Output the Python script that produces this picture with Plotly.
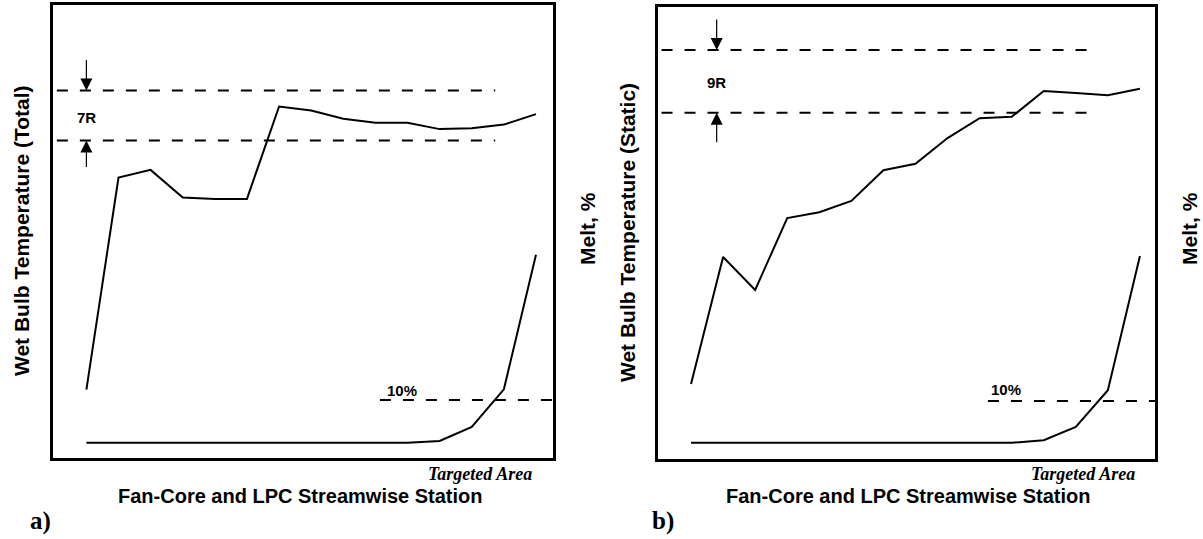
import plotly.graph_objects as go

W, H = 1203, 539

# ---------------- data ----------------
stations = list(range(15))

# Panel a) wet bulb temperature (total), arbitrary scale 0..100
temp_total = [15.1, 61.9, 63.6, 57.5, 57.2, 57.2, 77.6, 76.7, 74.9, 74.0, 74.0, 72.6, 72.8, 73.6, 75.9]
melt_a = [0, 0, 0, 0, 0, 0, 0, 0, 0, 0, 0, 0.4, 3.7, 12.5, 44.0]
band_a = [81.1, 70.1]          # 7R band limits
band_a_x = [-0.92, 12.73]
label_a = "7R"

# Panel b) wet bulb temperature (static)
temp_static = [16.6, 44.7, 37.4, 53.3, 54.6, 57.1, 63.9, 65.3, 71.0, 75.4, 75.7, 81.4, 81.0, 80.5, 81.9]
melt_b = [0, 0, 0, 0, 0, 0, 0, 0, 0, 0, 0, 0.6, 3.8, 12.6, 44.8]
band_b = [90.5, 76.6]          # 9R band limits
band_b_x = [-0.92, 12.69]
label_b = "9R"

melt_threshold = 10            # %
thr_x_a = [9.14, 14.53]
thr_x_b = [9.26, 14.47]

x_title = "Fan-Core and LPC Streamwise Station"
y_title_a = "Wet Bulb Temperature (Total)"
y_title_b = "Wet Bulb Temperature (Static)"
melt_title = "Melt, %"
target_text = "Targeted Area"

# ---------------- figure ----------------
def px(x):
    return x / W

def py(y):
    return 1 - y / H

fig = go.Figure()
line = dict(color="black", width=2)
dash = dict(color="black", width=2, dash="11px,12px")

# panel a
fig.add_trace(go.Scatter(x=stations, y=temp_total, mode="lines", line=line, xaxis="x", yaxis="y"))
for b in band_a:
    fig.add_trace(go.Scatter(x=band_a_x, y=[b, b], mode="lines", line=dash, xaxis="x", yaxis="y"))
fig.add_trace(go.Scatter(x=stations, y=melt_a, mode="lines", line=line, xaxis="x", yaxis="y3"))
fig.add_trace(go.Scatter(x=thr_x_a, y=[melt_threshold] * 2, mode="lines", line=dash, xaxis="x", yaxis="y3"))

# panel b
fig.add_trace(go.Scatter(x=stations, y=temp_static, mode="lines", line=line, xaxis="x2", yaxis="y2"))
for b in band_b:
    fig.add_trace(go.Scatter(x=band_b_x, y=[b, b], mode="lines", line=dash, xaxis="x2", yaxis="y2"))
fig.add_trace(go.Scatter(x=stations, y=melt_b, mode="lines", line=line, xaxis="x2", yaxis="y4"))
fig.add_trace(go.Scatter(x=thr_x_b, y=[melt_threshold] * 2, mode="lines", line=dash, xaxis="x2", yaxis="y4"))

ax_common = dict(showgrid=False, zeroline=False, showticklabels=False, ticks="",
                 showline=True, mirror=True, linecolor="black", linewidth=2.5)
hidden = dict(visible=False, showgrid=False, zeroline=False)

fig.update_layout(
    width=W, height=H,
    margin=dict(l=0, r=0, t=0, b=0),
    paper_bgcolor="white", plot_bgcolor="white",
    showlegend=False,
    xaxis=dict(domain=[px(53), px(553)], range=[-1.04, 14.53], anchor="y", **ax_common),
    yaxis=dict(domain=[py(458), py(5)], range=[0, 100], anchor="x", **ax_common),
    yaxis3=dict(overlaying="y", range=[-3.58, 102.5], anchor="x", **hidden),
    xaxis2=dict(domain=[px(658), px(1155)], range=[-1.03, 14.47], anchor="y2", **ax_common),
    yaxis2=dict(domain=[py(459), py(7)], range=[0, 100], anchor="x2", **ax_common),
    yaxis4=dict(overlaying="y2", range=[-3.9, 104.5], anchor="x2", **hidden),
)

ann = []
sans = "Liberation Sans, Arial"
serif = "Liberation Serif, Times New Roman"

def paper_text(text, x, y, size, angle=0, family=sans, xanchor="center"):
    ann.append(dict(text=text, x=px(x), y=py(y), xref="paper", yref="paper", showarrow=False,
                    textangle=angle, font=dict(family=family, size=size, color="black"),
                    xanchor=xanchor, yanchor="middle"))

# axis titles
paper_text("<b>%s</b>" % y_title_a, 21, 231, 21, angle=-90)
paper_text("<b>%s</b>" % y_title_b, 627, 233, 21, angle=-90)
paper_text("<b>%s</b>" % melt_title, 588, 229, 21, angle=-90)
paper_text("<b>%s</b>" % melt_title, 1190, 229, 21, angle=-90)
paper_text("<b>%s</b>" % x_title, 300, 496, 20)
paper_text("<b>%s</b>" % x_title, 908, 496, 20)
paper_text("<b><i>%s</i></b>" % target_text, 534, 474, 18, family=serif, xanchor="right")
paper_text("<b><i>%s</i></b>" % target_text, 1137, 474, 18, family=serif, xanchor="right")
paper_text("<b>a)</b>", 40, 521, 25, family=serif)
paper_text("<b>b)</b>", 663, 521, 25, family=serif)

# band labels
ann.append(dict(text="<b>%s</b>" % label_a, x=0, y=75.1, xref="x", yref="y", showarrow=False,
                font=dict(family=sans, size=15, color="black")))
ann.append(dict(text="<b>%s</b>" % label_b, x=0.8, y=83.4, xref="x2", yref="y2", showarrow=False,
                font=dict(family=sans, size=15, color="black")))
# 10% labels
ann.append(dict(text="<b>10%</b>", x=9.83, y=12.3, xref="x", yref="y3", showarrow=False,
                font=dict(family=sans, size=15, color="black")))
ann.append(dict(text="<b>10%</b>", x=9.82, y=12.8, xref="x2", yref="y4", showarrow=False,
                font=dict(family=sans, size=15, color="black")))

# dimension arrows
arrow = dict(showarrow=True, text="", arrowhead=2, arrowsize=2, arrowwidth=1.2, arrowcolor="black",
             ax=0, standoff=0)
ann.append(dict(x=0, y=band_a[0], xref="x", yref="y", ay=-32, **arrow))
ann.append(dict(x=0, y=band_a[1], xref="x", yref="y", ay=28, **arrow))
ann.append(dict(x=0.8, y=band_b[0], xref="x2", yref="y2", ay=-32, **arrow))
ann.append(dict(x=0.8, y=band_b[1], xref="x2", yref="y2", ay=31, **arrow))

fig.update_layout(annotations=ann)

fig.write_html("out.html", config={"displayModeBar": False},
               post_script="document.body.style.margin='0';")
